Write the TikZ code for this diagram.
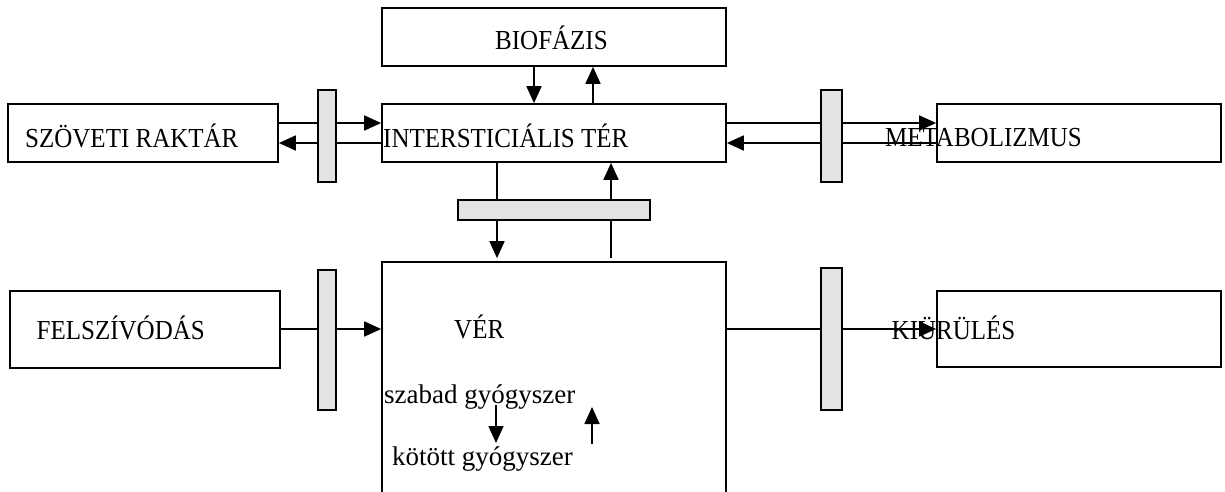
\documentclass[tikz,border=0pt]{standalone}
\usepackage{fontspec}
\setmainfont{Liberation Serif}
\usetikzlibrary{arrows.meta}
\newcommand{\capt}[1]{\scalebox{1}[1.1]{#1}}
\begin{document}
\begin{tikzpicture}[x=1pt,y=-1pt,
  box/.style={draw, line width=1.7pt, inner sep=0pt},
  mem/.style={draw, line width=1.7pt, fill=black!11, inner sep=0pt},
  txt/.style={anchor=base west, inner sep=0pt, font=\fontsize{25}{30}\selectfont},
  stxt/.style={anchor=base west, inner sep=0pt, font=\fontsize{27}{32}\selectfont},
  ln/.style={line width=1.7pt},
  arr/.style={ln, -{Triangle[length=17pt,width=15pt]}}]
\useasboundingbox (0,0) rectangle (1225,491);
% boxes
\node[box, minimum width=344pt, minimum height=58pt] (bio) at (554,37) {};
\node[box, minimum width=344pt, minimum height=58pt] (inter) at (554,133) {};
\node[box, minimum width=270pt, minimum height=58pt] (rak) at (143,133) {};
\node[box, minimum width=284pt, minimum height=58pt] (meta) at (1079,133) {};
\node[box, minimum width=270pt, minimum height=77pt] (fel) at (145,329.5) {};
\node[box, minimum width=284pt, minimum height=76pt] (kiu) at (1079,329) {};
\node[box, minimum width=344pt, minimum height=240pt] (ver) at (554,382) {};
% membranes
\node[mem, minimum width=18pt, minimum height=92pt] (m1) at (327,136) {};
\node[mem, minimum width=21pt, minimum height=92pt] (m2) at (831.5,136) {};
\node[mem, minimum width=18pt, minimum height=140pt] (m3) at (327,340) {};
\node[mem, minimum width=21pt, minimum height=142pt] (m4) at (831.5,339) {};
\node[mem, minimum width=192pt, minimum height=20pt] (m5) at (554,210) {};
% helper coordinates
\coordinate (yu) at (0,123);
\coordinate (yl) at (0,143);
\coordinate (ym) at (0,329);
\coordinate (xa) at (534,0);
\coordinate (xb) at (593,0);
\coordinate (xc) at (497,0);
\coordinate (xd) at (611,0);
% left upper exchange
\draw[ln] (rak.east |- yu) -- (m1.west |- yu);
\draw[arr] (m1.east |- yu) -- (inter.west |- yu);
\draw[ln] (inter.west |- yl) -- (m1.east |- yl);
\draw[arr] (m1.west |- yl) -- (rak.east |- yl);
% right upper exchange
\draw[ln] (inter.east |- yu) -- (m2.west |- yu);
\draw[arr] (m2.east |- yu) -- (meta.west |- yu);
\draw[ln] (meta.west |- yl) -- (m2.east |- yl);
\draw[arr] (m2.west |- yl) -- (inter.east |- yl);
% biofazis
\draw[arr] (xa |- bio.south) -- (xa |- inter.north);
\draw[arr] (xb |- inter.north) -- (xb |- bio.south);
% inter <-> ver
\draw[ln] (xc |- inter.south) -- (xc |- m5.north);
\draw[arr, shorten >=3pt] (xc |- m5.south) -- (xc |- ver.north);
\draw[ln, shorten <=3pt] (xd |- ver.north) -- (xd |- m5.south);
\draw[arr] (xd |- m5.north) -- (xd |- inter.south);
% bottom row
\draw[ln] (fel.east |- ym) -- (m3.west |- ym);
\draw[arr] (m3.east |- ym) -- (ver.west |- ym);
\draw[ln] (ver.east |- ym) -- (m4.west |- ym);
\draw[arr] (m4.east |- ym) -- (kiu.west |- ym);
% inside ver
\coordinate (s1) at (496,405);
\coordinate (k1) at (496,443);
\coordinate (k2) at (592,444);
\coordinate (s2) at (592,407);
\draw[arr] (s1) -- (k1);
\draw[arr] (k2) -- (s2);
% texts
\node[txt] (tbio) at (495,49.5) {\capt{BIOFÁZIS}};
\node[txt] (tinter) at (383,147) {\capt{INTERSTICIÁLIS TÉR}};
\node[txt] (trak) at (25,147) {\capt{SZÖVETI RAKTÁR}};
\node[txt] (tmeta) at (885,146) {\capt{METABOLIZMUS}};
\node[txt] (tfel) at (36.5,339) {\capt{FELSZÍVÓDÁS}};
\node[txt] (tkiu) at (891.5,339) {\capt{KIÜRÜLÉS}};
\node[txt] (tver) at (454,338) {\capt{VÉR}};
\node[stxt] (tsz) at (384,403) {szabad gyógyszer};
\node[stxt] (tko) at (392,465) {kötött gyógyszer};
\end{tikzpicture}
\end{document}
